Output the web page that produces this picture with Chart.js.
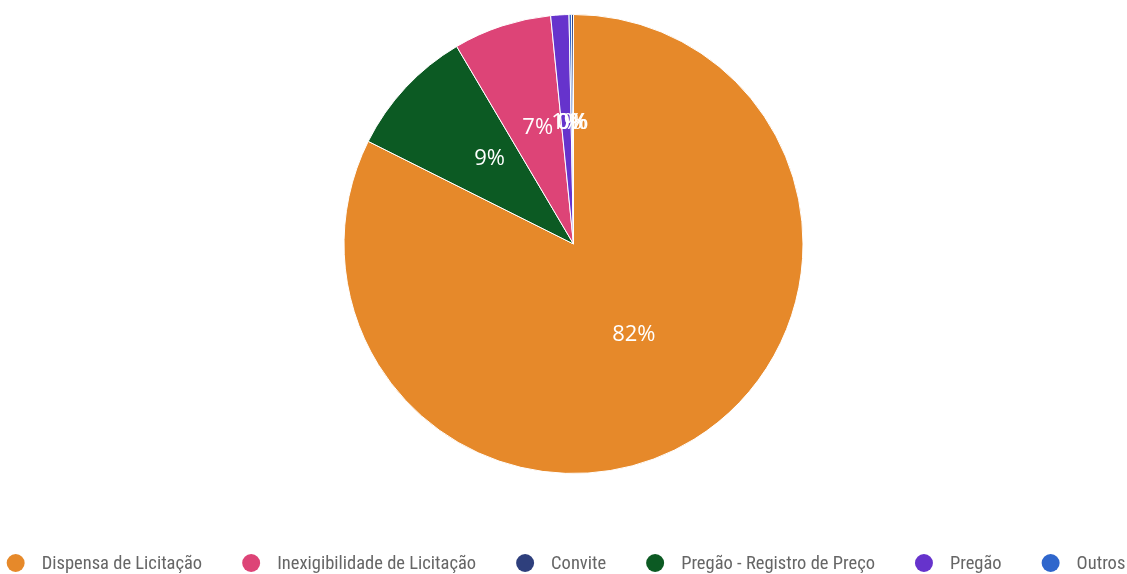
<!DOCTYPE html>
<html lang="pt-BR">
<head>
<meta charset="utf-8">
<title>Modalidades de licitação</title>
<script src="https://cdn.jsdelivr.net/npm/chart.js@4"></script>
<style>
  html, body { margin: 0; padding: 0; background: #fff; }
  #grafico-wrap { width: 1127px; height: 574px; position: relative; }
</style>
</head>
<body>
<div id="grafico-wrap"><canvas id="graficoModalidades"></canvas></div>
<script>
// fatias na ordem em que aparecem (sentido horário a partir do topo)
const modalidades = ['Dispensa de Licitação', 'Pregão - Registro de Preço', 'Inexigibilidade de Licitação', 'Pregão', 'Outros', 'Convite'];
const percentuais = [82.38, 9.12, 6.91, 1.28, 0.17, 0.14];
const cores = ['#E6892A', '#0C5A23', '#DD4477', '#6633CC', '#2F66CC', '#2E3F7C'];
// a legenda segue outra ordem
const ordemLegenda = ['Dispensa de Licitação', 'Inexigibilidade de Licitação', 'Convite', 'Pregão - Registro de Preço', 'Pregão', 'Outros'];

const fonteLegenda = '18.5px "Roboto Condensed", "Liberation Sans Narrow", "DejaVu Sans Condensed", sans-serif';
const fonteRotulo = '22px "Open Sans", sans-serif';

// rótulos de porcentagem no meio de cada fatia
const rotulosPlugin = {
    id: 'rotulos',
    afterDatasetsDraw(chart) {
        const ctx = chart.ctx;
        const meta = chart.getDatasetMeta(0);
        const valores = chart.data.datasets[0].data;
        const total = valores.reduce((a, b) => a + b, 0);
        ctx.save();
        ctx.font = fonteRotulo;
        ctx.fillStyle = '#fff';
        ctx.textAlign = 'center';
        ctx.textBaseline = 'middle';
        meta.data.forEach((arco, i) => {
            const p = arco.getProps(['x', 'y', 'startAngle', 'endAngle', 'innerRadius', 'outerRadius'], true);
            const meio = (p.startAngle + p.endAngle) / 2;
            const r = (p.innerRadius + p.outerRadius) / 2;
            const x = p.x + Math.cos(meio) * r;
            const y = p.y + Math.sin(meio) * r - 7;
            ctx.fillText(Math.round(valores[i] / total * 100) + '%', x, y);
        });
        ctx.restore();
    }
};

// legenda desenhada embaixo, em uma linha centralizada
const legendaPlugin = {
    id: 'legendaModalidades',
    afterDraw(chart) {
        const ctx = chart.ctx;
        const raio = 9;
        const espacoTexto = 17;
        const espacoItem = 40;
        const y = chart.height - 11;
        ctx.save();
        ctx.font = fonteLegenda;
        ctx.textBaseline = 'middle';
        const larguras = ordemLegenda.map(t => ctx.measureText(t).width);
        let total = larguras.reduce((a, b) => a + b, 0) + ordemLegenda.length * (2 * raio + espacoTexto) + (ordemLegenda.length - 1) * espacoItem;
        let x = chart.width / 2 - total / 2 + 2.5;
        ordemLegenda.forEach((nome, k) => {
            const i = chart.data.labels.indexOf(nome);
            ctx.fillStyle = chart.data.datasets[0].backgroundColor[i];
            ctx.beginPath();
            ctx.arc(x + raio, y, raio, 0, Math.PI * 2);
            ctx.fill();
            x += 2 * raio + espacoTexto;
            ctx.fillStyle = '#666';
            ctx.fillText(nome, x, y + 1);
            x += larguras[k] + espacoItem;
        });
        ctx.restore();
    }
};

const ctx = document.getElementById('graficoModalidades');
new Chart(ctx.getContext('2d'), {
    type: 'pie',
    data: {
        labels: modalidades,
        datasets: [{
            data: percentuais,
            backgroundColor: cores,
            borderColor: '#fff',
            borderWidth: 1
        }]
    },
    options: {
        responsive: true,
        maintainAspectRatio: false,
        animation: false,
        layout: {
            padding: { top: 14, bottom: 100, left: 20 }
        },
        plugins: {
            legend: { display: false },
            tooltip: { enabled: false }
        }
    },
    plugins: [rotulosPlugin, legendaPlugin]
});
</script>
</body>
</html>
